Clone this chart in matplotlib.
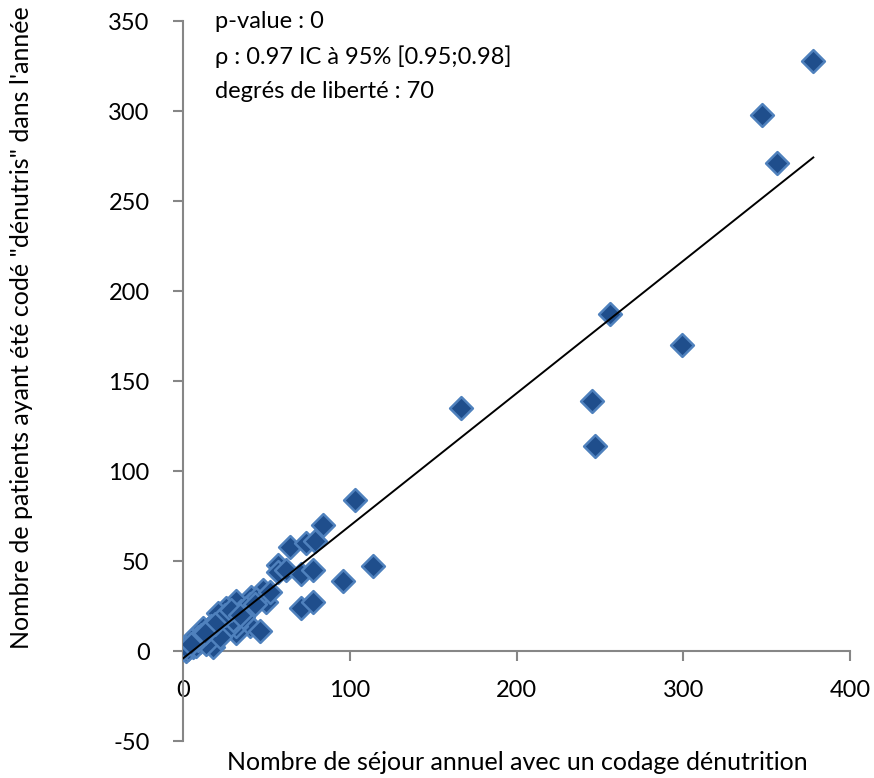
import numpy as np
import matplotlib
matplotlib.use("Agg")
import matplotlib.pyplot as plt

# Annual stays coded for undernutrition vs. patients coded "dénutris"
sejours = [378, 347, 356, 256, 299, 167, 245, 247, 103, 84,
           64, 74, 79, 57, 57, 62, 71, 78, 96, 114,
           71, 78, 48, 50, 41, 40, 32, 26, 21, 24,
           40, 46, 32, 32, 18, 15, 12, 9, 5, 0,
           2, 4, 7, 10, 13, 16, 20, 23, 28, 35,
           44, 52, 36, 27, 11, 6, 3, 8, 14, 17,
           22, 30, 38, 25, 19, 29, 34, 43, 1, 9,
           13, 5]
patients = [328, 298, 271, 187, 170, 135, 139, 114, 84, 70,
            58, 60, 61, 48, 44, 45, 43, 45, 39, 47,
            24, 27, 34, 27, 30, 26, 28, 24, 21, 17,
            14, 11, 10, 14, 2, 12, 13, 8, 6, 1,
            0, 3, 4, 5, 7, 9, 10, 13, 18, 22,
            29, 33, 19, 13, 9, 2, 1, 3, 4, 14,
            8, 17, 24, 20, 15, 23, 20, 26, 2, 6,
            10, 4]

x_ticks = [0, 100, 200, 300, 400]
y_ticks = [-50, 0, 50, 100, 150, 200, 250, 300, 350]
stats_lines = ["p-value : 0",
               "\u03c1 : 0.97 IC \u00e0 95% [0.95;0.98]",
               "degr\u00e9s de libert\u00e9 : 70"]

plt.rcParams["font.family"] = ["Lato", "DejaVu Sans"]
plt.rcParams["axes.unicode_minus"] = False

fig = plt.figure(figsize=(8.74, 7.78), dpi=100)
ax = fig.add_axes([183 / 874, 37 / 778, 667 / 874, 720 / 778])

x = np.array(sejours, dtype=float)
y = np.array(patients, dtype=float)

ax.scatter(x, y, marker="D", s=135, color="#1F4E8C", edgecolor="#4F81BD",
           linewidth=1.8, zorder=3)

# Linear trend line across the observed range
slope, intercept = np.polyfit(x, y, 1)
xs = np.array([x.min(), x.max()])
ax.plot(xs, slope * xs + intercept, color="black", linewidth=1.4, zorder=4)

ax.set_xlim(0, 400)
ax.set_ylim(-50, 350)
ax.set_xticks(x_ticks)
ax.set_yticks(y_ticks)

gray = "#868686"
for side in ("top", "right"):
    ax.spines[side].set_visible(False)
ax.spines["bottom"].set_position(("data", 0))
ax.spines["bottom"].set_color(gray)
ax.spines["left"].set_color(gray)
ax.spines["bottom"].set_linewidth(1.5)
ax.spines["left"].set_linewidth(1.5)
ax.tick_params(axis="both", direction="out", length=7, width=1.5, color=gray,
               labelsize=17, labelcolor="black")
ax.tick_params(axis="x", pad=14)
ax.tick_params(axis="y", pad=17)

fig.text(517 / 874, 1 - 762 / 778, "Nombre de s\u00e9jour annuel avec un codage d\u00e9nutrition",
         ha="center", va="center", fontsize=18)
fig.text(22 / 874, 1 - 328 / 778,
         "Nombre de patients ayant \u00e9t\u00e9 cod\u00e9 \"d\u00e9nutris\" dans l'ann\u00e9e",
         ha="center", va="center", rotation=90, fontsize=18)

for i, line in enumerate(stats_lines):
    fig.text(215 / 874, 1 - (22 + 35 * i) / 778, line, ha="left", va="center",
             fontsize=17)

fig.savefig("out.png", dpi=100, facecolor="white")
